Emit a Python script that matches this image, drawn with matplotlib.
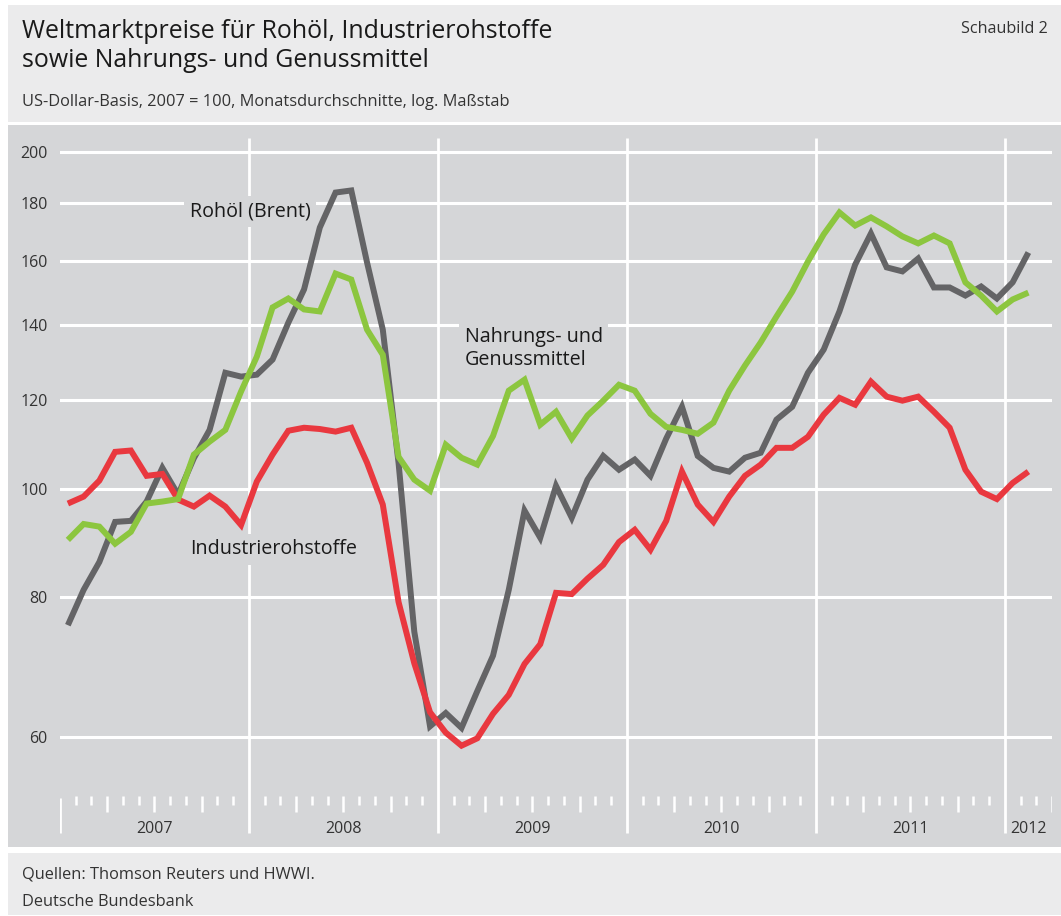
import numpy as np
import matplotlib
matplotlib.use("Agg")
import matplotlib.pyplot as plt
from matplotlib.patches import Rectangle
import matplotlib.transforms as mtransforms

# ---------------- data ----------------
years = ["2007", "2008", "2009", "2010", "2011", "2012"]
yticks = [60, 80, 100, 120, 140, 160, 180, 200]

# monthly averages Jan 2007 .. Feb 2012, 2007 = 100
rohoel = [75.5, 81.2, 86.0, 93.4, 93.6, 97.4, 104.4, 98.8, 106.5, 112.9, 127.0, 126.0,
          126.5, 130.5, 140.8, 150.8, 171.3, 184.1, 184.9, 159.4, 138.8, 105.5, 74.5, 61.3,
          63.0, 61.1, 65.9, 70.9, 81.2, 95.6, 90.4, 100.6, 94.2, 101.9, 107.0, 104.0,
          106.2, 102.7, 110.9, 118.4, 107.0, 104.4, 103.6, 106.6, 107.7, 115.3, 118.4, 127.0,
          133.2, 144.1, 158.7, 169.2, 157.8, 156.5, 160.7, 151.4, 151.4, 148.9, 151.7, 148.0,
          153.0, 162.7]
nahrung = [90.0, 93.0, 92.5, 89.3, 91.5, 97.0, 97.4, 97.9, 107.3, 110.2, 112.9, 122.2,
           131.3, 145.3, 148.0, 144.7, 144.1, 155.8, 153.9, 138.8, 131.8, 106.8, 101.9, 99.6,
           109.5, 106.6, 105.1, 111.5, 122.4, 125.2, 114.1, 117.2, 110.9, 116.3, 119.9, 123.9,
           122.4, 116.7, 113.6, 112.9, 112.0, 114.6, 122.4, 128.9, 135.2, 142.6, 150.1, 159.7,
           168.9, 176.7, 172.0, 174.9, 171.7, 168.2, 165.8, 168.5, 165.8, 153.0, 148.9, 144.1,
           147.7, 149.8]
industrie = [97.0, 98.4, 101.7, 107.9, 108.2, 102.7, 103.1, 97.8, 96.4, 98.6, 96.4, 92.8,
             101.5, 107.3, 112.7, 113.4, 113.1, 112.5, 113.4, 105.5, 96.8, 79.2, 69.8, 63.1,
             60.5, 58.9, 59.8, 62.9, 65.4, 69.7, 72.6, 80.7, 80.5, 83.1, 85.5, 89.6,
             91.9, 88.2, 93.6, 103.6, 96.8, 93.4, 98.4, 102.7, 105.1, 108.8, 108.8, 111.3,
             116.5, 120.6, 118.9, 124.7, 120.9, 119.9, 120.9, 117.2, 113.4, 104.0, 99.4, 97.9,
             101.2, 103.6]

# ---------------- style ----------------
W, H = 1061, 916
C_LIGHT = "#ebebec"
C_PANEL = "#d5d6d8"
C_GREY = "#646466"
C_GREEN = "#8cc63f"
C_RED = "#e9383f"
C_TEXT = "#1a1a1a"
C_TEXT2 = "#333333"
FONT = ["Open Sans", "DejaVu Sans"]
plt.rcParams["font.family"] = FONT

fig = plt.figure(figsize=(W / 100, H / 100), dpi=100)
fig.patch.set_facecolor("white")


def fx(x):
    return x / W


def fy(y):
    return 1 - y / H


# background panels
for (y0, y1) in [(5, 122), (125, 847), (853, 915)]:
    col = C_PANEL if y0 == 125 else C_LIGHT
    fig.patches.append(Rectangle((fx(8), fy(y1)), 1 - fx(8), (y1 - y0) / H,
                                 transform=fig.transFigure, facecolor=col,
                                 edgecolor="none", zorder=-10))

# header / footer texts
fig.text(fx(22), fy(37.7), "Weltmarktpreise für Rohöl, Industrierohstoffe", fontsize=17.9,
         color=C_TEXT, va="baseline", ha="left")
fig.text(fx(22), fy(66.7), "sowie Nahrungs- und Genussmittel", fontsize=17.9,
         color=C_TEXT, va="baseline", ha="left")
fig.text(fx(22), fy(106), "US-Dollar-Basis, 2007 = 100, Monatsdurchschnitte, log. Maßstab",
         fontsize=11.8, color=C_TEXT2, va="baseline", ha="left")
fig.text(fx(1048), fy(32.7), "Schaubild 2", fontsize=11.6, color=C_TEXT2,
         va="baseline", ha="right")
fig.text(fx(22), fy(878.3), "Quellen: Thomson Reuters und HWWI.", fontsize=11.8,
         color=C_TEXT2, va="baseline", ha="left")
fig.text(fx(22), fy(905.7), "Deutsche Bundesbank", fontsize=11.8,
         color=C_TEXT2, va="baseline", ha="left")

# ---------------- axes ----------------
ax_top, ax_bot = 138, 835
ax = fig.add_axes([fx(60), fy(ax_bot), (1052 - 60) / W, (ax_bot - ax_top) / H])
ax.set_zorder(1)
ax.set_facecolor("none")
ax.set_yscale("log")
ax.set_ylim(49.0, 206.0)
n_months = len(years) * 12 - 9  # Jan 2007 .. end of Mar 2012
ax.set_xlim(0, n_months)
for s in ax.spines.values():
    s.set_visible(False)

ax.set_yticks(yticks)
ax.set_yticklabels([str(v) for v in yticks])
ax.yaxis.set_minor_locator(matplotlib.ticker.NullLocator())
ax.tick_params(axis="y", length=0, pad=9, labelsize=11.5, labelcolor=C_TEXT2)
ax.set_xticks([])
ax.set_axisbelow(True)
ax.yaxis.grid(True, color="white", lw=2.2)


def yfrac(py):
    return (ax_bot - py) / (ax_bot - ax_top)


trans = mtransforms.blended_transform_factory(ax.transData, ax.transAxes)

# year separators
for k in range(1, len(years)):
    ax.plot([12 * k, 12 * k], [yfrac(833), 1], transform=trans, color="white", lw=2,
            solid_capstyle="butt", zorder=1)
ax.plot([0, 0], [yfrac(833), yfrac(798)], transform=trans, color="white", lw=2,
        solid_capstyle="butt", zorder=1)

# month ticks
for m in range(1, n_months + 1):
    if m % 12 == 0:
        continue
    top = yfrac(796)
    bot = yfrac(812) if m % 3 == 0 else yfrac(805)
    ax.plot([m, m], [bot, top], transform=trans, color="white", lw=1.8,
            solid_capstyle="butt", zorder=1)

# year labels
for k, yr in enumerate(years):
    start = 12 * k
    end = min(12 * (k + 1), n_months)
    ax.text((start + end) / 2, yfrac(829), yr, transform=trans, ha="center", va="center",
            fontsize=11.5, color=C_TEXT2)

# series
x = np.arange(len(rohoel)) + 0.5
kw = dict(lw=4.3, solid_joinstyle="miter", solid_capstyle="butt", zorder=3)
ax.plot(x, rohoel, color=C_GREY, **kw)
ax.plot(x, industrie, color=C_RED, **kw)
ax.plot(x, nahrung, color=C_GREEN, **kw)

# inline labels
bb = dict(facecolor=C_PANEL, edgecolor="none", pad=4)
ax.text(8.25, 177.0, "Rohöl (Brent)", ha="left", va="center", fontsize=14.2,
        color=C_TEXT, bbox=bb, zorder=2)
ax.text(25.7, 133.5, "Nahrungs- und\nGenussmittel", ha="left", va="center", fontsize=14.2,
        color=C_TEXT, bbox=bb, zorder=2, linespacing=1.2)
ax.text(8.25, 88.3, "Industrierohstoffe", ha="left", va="center", fontsize=14.2,
        color=C_TEXT, bbox=bb, zorder=2)

fig.savefig("out.png", dpi=100)
